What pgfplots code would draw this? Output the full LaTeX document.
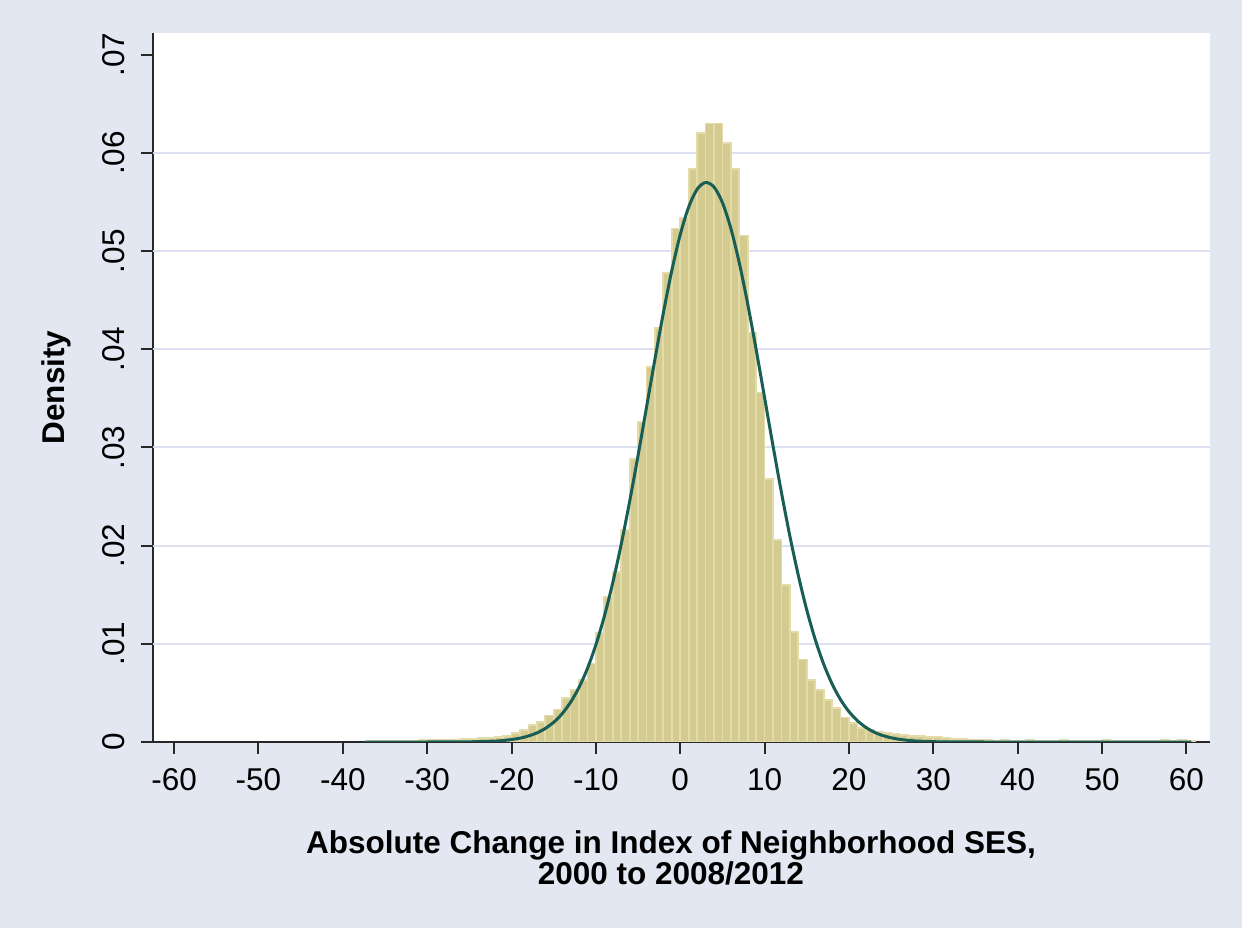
\documentclass[border=0pt]{standalone}
\usepackage{pgfplots}
\pgfplotsset{compat=1.18}
\usepackage{fontspec}
\setmainfont{Liberation Sans}

\definecolor{regionbg}{RGB}{226,231,242}
\definecolor{barfill}{RGB}{212,203,145}
\definecolor{baredge}{RGB}{227,220,170}
\definecolor{normline}{RGB}{24,94,84}
\definecolor{gridcol}{RGB}{221,224,240}
\definecolor{axiscol}{RGB}{40,40,40}

% Histogram: left bin edge, density (bin width 1); last row closes the final bin
\pgfplotstableread{
x y
-37 0.0001
-36 0.0001
-35 0.0001
-34 0.0001
-33 0.0001
-32 0.0001
-31 0.0002
-30 0.0002
-29 0.0002
-28 0.0002
-27 0.0002
-26 0.0003
-25 0.0003
-24 0.0004
-23 0.0004
-22 0.0005
-21 0.0006
-20 0.0009
-19 0.0012
-18 0.0017
-17 0.0020
-16 0.0027
-15 0.0033
-14 0.0045
-13 0.0053
-12 0.0063
-11 0.0080
-10 0.0111
-9 0.0148
-8 0.0173
-7 0.0216
-6 0.0288
-5 0.0326
-4 0.0382
-3 0.0422
-2 0.0478
-1 0.0523
0 0.0534
1 0.0584
2 0.0620
3 0.0630
4 0.0630
5 0.0610
6 0.0584
7 0.0516
8 0.0417
9 0.0356
10 0.0268
11 0.0206
12 0.0160
13 0.0112
14 0.0084
15 0.0063
16 0.0053
17 0.0043
18 0.0035
19 0.0025
20 0.0019
21 0.0014
22 0.0012
23 0.0010
24 0.0009
25 0.0008
26 0.0007
27 0.0006
28 0.0006
29 0.0005
30 0.0005
31 0.0004
32 0.0003
33 0.0003
34 0.0002
35 0.0002
36 0.0002
37 0.0001
38 0.0002
39 0.0001
40 0.0001
41 0.0002
42 0.0001
43 0.0001
44 0.0001
45 0.0002
46 0.0001
47 0.0001
48 0.0001
49 0.0001
50 0.0002
51 0.0001
52 0.0001
53 0.0001
54 0.0001
55 0.0001
56 0.0001
57 0.0002
58 0.0001
59 0.0002
60 0.0001
61 0
}\histdata

% Normal density overlay (mean about 3.1, sd about 7)
\pgfplotstableread{
x y
-37.4 0.00000
-30 0.00000
-25 0.00002
-22 0.00009
-21 0.00015
-20 0.00025
-19 0.00039
-18 0.00061
-17 0.00092
-16 0.00138
-15 0.00201
-14 0.00288
-13 0.00405
-12 0.00556
-11 0.00749
-10 0.00990
-9 0.01280
-8 0.01622
-7 0.02013
-6 0.02449
-5 0.02918
-4 0.03408
-3 0.03899
-2 0.04371
-1 0.04802
0 0.05168
1 0.05449
2 0.05630
3 0.05699
4 0.05653
5 0.05494
6 0.05231
7 0.04880
8 0.04461
9 0.03996
10 0.03507
11 0.03015
12 0.02540
13 0.02096
14 0.01696
15 0.01344
16 0.01044
17 0.00794
18 0.00592
19 0.00432
20 0.00309
21 0.00217
22 0.00149
23 0.00100
24 0.00066
25 0.00043
26 0.00027
27 0.00017
28 0.00010
29 0.00006
30 0.00003
32 0.00001
36 0.00000
60.6 0.00000
}\normdata

\begin{document}
\begin{tikzpicture}
% graph region, which is also the page
\useasboundingbox[fill=regionbg] (-61.2bp,-74.4bp) rectangle (435.6bp,296.8bp);
\begin{axis}[
  at={(0,0)}, anchor=south west,
  scale only axis, width=422.8bp, height=283.6bp,
  xmin=-62.5, xmax=62.8, ymin=0, ymax=0.07222,
  scaled y ticks=false, scaled x ticks=false,
  axis x line*=bottom, axis y line*=left,
  axis line style={axiscol, line width=0.8bp, -},
  axis background/.style={fill=white},
  tick align=outside, major tick length=4.8bp,
  tick style={axiscol, line width=0.8bp},
  xtick={-60,-50,-40,-30,-20,-10,0,10,20,30,40,50,60},
  xticklabels={-60,-50,-40,-30,-20,-10,0,10,20,30,40,50,60},
  ytick={0,0.01,0.02,0.03,0.04,0.05,0.06,0.07},
  yticklabels={0,.01,.02,.03,.04,.05,.06,.07},
  extra y ticks={0.01,0.02,0.03,0.04,0.05,0.06},
  extra y tick labels={},
  extra y tick style={grid=major, major tick length=0pt},
  grid style={gridcol, line width=0.8bp},
  ticklabel style={font=\fontsize{12.6bp}{14bp}\selectfont, text=black, inner sep=0pt},
  xticklabel style={anchor=north, yshift=-5.6bp},
  yticklabel style={xshift=-6.4bp, rotate=90, anchor=south},
  xlabel={Absolute Change in Index of Neighborhood SES,\\2000 to 2008/2012},
  xlabel style={at={(axis description cs:0.49,0)}, anchor=north, yshift=-35.2bp,
    align=center, inner sep=0pt, font=\fontsize{12.6bp}{12.4bp}\selectfont\bfseries},
  ylabel={Density},
  ylabel style={at={([xshift=-32.4bp]axis description cs:0,0.5)}, anchor=south,
    inner sep=0pt, font=\fontsize{12.6bp}{14.1bp}\selectfont\bfseries},
]
\addplot[ybar interval, fill=barfill, draw=baredge, line width=0.7bp] table[x=x, y=y] {\histdata};
\addplot[normline, line width=1.2bp, smooth, mark=none] table[x=x, y=y] {\normdata};
\end{axis}
% x axis line runs slightly past the y axis
\draw[axiscol, line width=0.8bp] (-4bp,0) -- (0,0);
\end{tikzpicture}
\end{document}
